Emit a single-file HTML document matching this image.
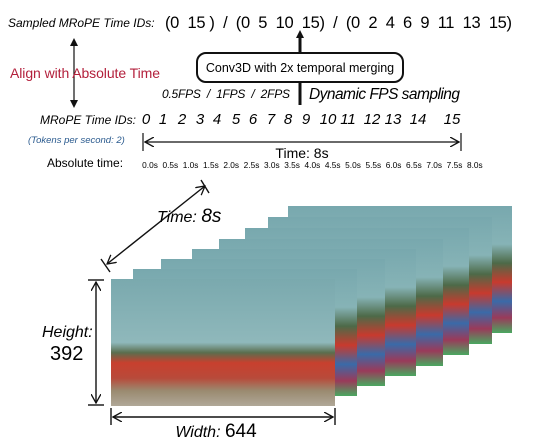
<!DOCTYPE html>
<html><head><meta charset="utf-8"><style>
html,body{margin:0;padding:0;background:#fff;}
svg{display:block;font-family:"Liberation Sans",sans-serif;}
text{white-space:pre;}
</style></head><body>
<svg width="553" height="445" viewBox="0 0 553 445">
<defs>
<marker id="ah" markerWidth="10" markerHeight="10" refX="9" refY="5" orient="auto-start-reverse" markerUnits="userSpaceOnUse">
<path d="M0,0 L9,5 L0,10" fill="none" stroke="#111" stroke-width="1.3"/></marker>
<marker id="ahf" markerWidth="8" markerHeight="8" refX="4" refY="4" orient="auto-start-reverse" markerUnits="userSpaceOnUse">
<path d="M0,0 L8,4 L0,8 Z" fill="#111"/></marker>
<linearGradient id="fr" x1="0" y1="0" x2="0" y2="1">
<stop offset="0" stop-color="#7aa9ae"/><stop offset="0.5" stop-color="#8fb8bb"/>
<stop offset="0.58" stop-color="#5a6e4e"/><stop offset="0.66" stop-color="#c8402e"/>
<stop offset="0.78" stop-color="#b84a3a"/><stop offset="0.88" stop-color="#9a8a70"/><stop offset="1" stop-color="#b0a898"/></linearGradient>
<linearGradient id="fb" x1="0" y1="0" x2="0" y2="1">
<stop offset="0" stop-color="#78a8ae"/><stop offset="0.3" stop-color="#86b3b6"/>
<stop offset="0.45" stop-color="#4d6a48"/><stop offset="0.6" stop-color="#c83a2e"/>
<stop offset="0.75" stop-color="#3a6aa8"/><stop offset="0.88" stop-color="#9a3a5a"/><stop offset="1" stop-color="#4aa860"/></linearGradient>
</defs>

<text x="8" y="27" font-size="12" font-style="italic">Sampled MRoPE Time IDs:</text>
<text x="165" y="28" font-size="16.5" textLength="347" lengthAdjust="spacing">(0  15 )  /  (0  5  10  15)  /  (0  2  4  6  9  11  13  15)</text>

<line x1="74" y1="42" x2="74" y2="104" stroke="#111" stroke-width="1.2" marker-start="url(#ahf)" marker-end="url(#ahf)"/>
<text x="10" y="78" font-size="14" textLength="150" fill="#b3203c">Align with Absolute Time</text>

<line x1="300" y1="105" x2="300" y2="34" stroke="#111" stroke-width="3" marker-end="url(#ahf)"/>
<rect x="197" y="53" width="206" height="29" rx="9" fill="#fff" stroke="#111" stroke-width="2"/>
<text x="300" y="72" font-size="12.5" text-anchor="middle">Conv3D with 2x temporal merging</text>
<text x="162" y="98" font-size="12" font-style="italic" textLength="128">0.5FPS  /  1FPS  /  2FPS</text>
<text x="309" y="99" font-size="15.5" font-style="italic" textLength="151">Dynamic FPS sampling</text>

<text x="40" y="124" font-size="12" font-style="italic">MRoPE Time IDs:</text>
<g id="ids" font-size="15" font-style="italic" text-anchor="middle"></g>
<text x="28" y="143" font-size="9.5" font-style="italic" fill="#2a5a8e">(Tokens per second: 2)</text>
<line x1="143" y1="133" x2="143" y2="151" stroke="#111" stroke-width="1.2"/>
<line x1="461" y1="133" x2="461" y2="151" stroke="#111" stroke-width="1.2"/>
<line x1="145" y1="142" x2="459" y2="142" stroke="#111" stroke-width="1.2" marker-start="url(#ah)" marker-end="url(#ah)"/>
<text x="302" y="158" font-size="14" text-anchor="middle">Time: 8s</text>
<text x="47" y="167" font-size="12">Absolute time:</text>
<g id="abs" font-size="8.3" text-anchor="middle"></g>

<g id="frames"></g>

<line x1="107" y1="264" x2="205" y2="186" stroke="#111" stroke-width="1.4" marker-start="url(#ah)" marker-end="url(#ah)"/>
<line x1="101" y1="259" x2="110" y2="272" stroke="#111" stroke-width="1.4"/>
<line x1="201" y1="180" x2="209" y2="193" stroke="#111" stroke-width="1.4"/>
<text x="157" y="222" font-size="16" font-style="italic">Time: <tspan font-size="19">8s</tspan></text>

<line x1="88" y1="280" x2="104" y2="280" stroke="#111" stroke-width="1.4"/>
<line x1="88" y1="405" x2="104" y2="405" stroke="#111" stroke-width="1.4"/>
<line x1="96" y1="282" x2="96" y2="403" stroke="#111" stroke-width="1.4" marker-start="url(#ah)" marker-end="url(#ah)"/>
<text x="42" y="337" font-size="16" font-style="italic">Height:</text>
<text x="50" y="360" font-size="20">392</text>

<line x1="111" y1="408" x2="111" y2="425" stroke="#111" stroke-width="1.4"/>
<line x1="335" y1="408" x2="335" y2="425" stroke="#111" stroke-width="1.4"/>
<line x1="113" y1="417" x2="333" y2="417" stroke="#111" stroke-width="1.4" marker-start="url(#ah)" marker-end="url(#ah)"/>
<text x="216" y="437" font-size="16" font-style="italic" text-anchor="middle">Width: <tspan font-size="19" font-style="normal">644</tspan></text>
</svg>
<script>
const ids=["0","1","2","3","4","5","6","7","8","9","10","11","12","13","14","15"];
const idX=[146,163,182,200,217,236,253,271,288,306,328,348,372,393,418,452];
const times=["0.0s","0.5s","1.0s","1.5s","2.0s","2.5s","3.0s","3.5s","4.0s","4.5s","5.0s","5.5s","6.0s","6.5s","7.0s","7.5s","8.0s"];
const NS="http://www.w3.org/2000/svg";
const g=document.getElementById('ids');
ids.forEach((t,i)=>{const e=document.createElementNS(NS,'text');e.setAttribute('x',idX[i]);e.setAttribute('y',124);e.textContent=t;


g.appendChild(e);});
const a=document.getElementById('abs');
times.forEach((t,i)=>{const e=document.createElementNS(NS,'text');e.setAttribute('x',150+i*20.3);e.setAttribute('y',168);e.textContent=t;


a.appendChild(e);});
const fl=[288,268,245,219,192,161,133,111];
const ft=[206,217,228,239,249,259,269,279];
const fg=document.getElementById('frames');
fl.forEach((x,i)=>{const r=document.createElementNS(NS,'rect');r.setAttribute('x',x);r.setAttribute('y',ft[i]);r.setAttribute('width',224);r.setAttribute('height',127);
r.setAttribute('fill',i==fl.length-1?'url(#fr)':'url(#fb)');


fg.appendChild(r);});
</script>
</body></html>
